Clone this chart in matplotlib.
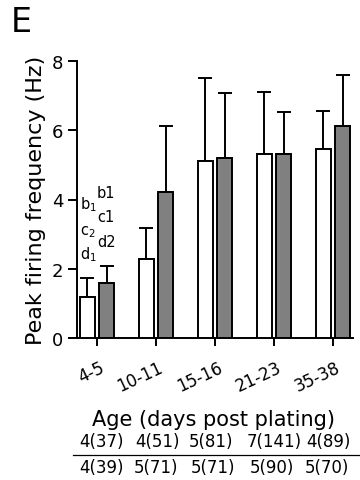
import matplotlib
matplotlib.use("Agg")
import matplotlib.pyplot as plt
import matplotlib.transforms as mtransforms
import numpy as np

plt.rcParams['font.family'] = ['DejaVu Sans']
plt.rcParams['mathtext.fontset'] = 'dejavusans'

ages = ["4-5", "10-11", "15-16", "21-23", "35-38"]
white_mean = [1.18, 2.28, 5.11, 5.30, 5.46]
white_err = [0.56, 0.89, 2.41, 1.80, 1.09]
gray_mean = [1.58, 4.23, 5.20, 5.30, 6.12]
gray_err = [0.51, 1.89, 1.87, 1.22, 1.48]
counts_white = ["4(37)", "4(51)", "5(81)", "7(141)", "4(89)"]
counts_gray = ["4(39)", "5(71)", "5(71)", "5(90)", "5(70)"]
sig_white = [r"b$_\mathregular{1}$", r"c$_\mathregular{2}$", r"d$_\mathregular{1}$"]
sig_gray = ["b1", "c1", "d2"]

W, H = 360, 481
fig = plt.figure(figsize=(W/100, H/100), dpi=100)
ax = fig.add_axes([77/W, 1-339/H, (353-77)/W, (339-62)/H])

x = np.arange(len(ages))
bw = 0.26
off = 0.165
lw = 1.4
ax.bar(x - off, white_mean, bw, color='white', edgecolor='black', linewidth=lw, zorder=3)
ax.bar(x + off, gray_mean, bw, color='#808080', edgecolor='black', linewidth=lw, zorder=3)
ax.errorbar(x - off, white_mean, yerr=[np.zeros(5), white_err], fmt='none', ecolor='black',
            elinewidth=lw, capsize=5, capthick=lw, zorder=2)
ax.errorbar(x + off, gray_mean, yerr=[np.zeros(5), gray_err], fmt='none', ecolor='black',
            elinewidth=lw, capsize=5, capthick=lw, zorder=2)

ax.set_xlim(-0.34, 4.34)
ax.set_ylim(0, 8)
ax.set_yticks([0, 2, 4, 6, 8])
ax.set_xticks(x)
ax.set_xticklabels([])
ax.tick_params(axis='y', labelsize=13, width=lw, length=6.5, direction='out', pad=3.5)
ax.tick_params(axis='x', width=lw, length=6, direction='out')
for s in ['top', 'right']:
    ax.spines[s].set_visible(False)
ax.spines['left'].set_linewidth(lw)
ax.spines['bottom'].set_linewidth(lw)
ax.set_ylabel("Peak firing frequency (Hz)", fontsize=16, labelpad=4)

# rotated category labels (drawn as text so they can sit slightly right of ticks)
lab_tr = ax.get_xaxis_transform() + mtransforms.ScaledTranslation(10/100, -20/100, fig.dpi_scale_trans)
for xi, t in zip(x, ages):
    ax.text(xi, 0, t, rotation=25, ha='right', va='top', fontsize=12,
            transform=lab_tr, clip_on=False)

# significance letters
ys_w = [3.88, 3.1, 2.43]
ys_g = [4.2, 3.5, 2.78]
for t, yy in zip(sig_white, ys_w):
    ax.text(-0.29, yy, t, fontsize=10.5, ha='left', va='center')
for t, yy in zip(sig_gray, ys_g):
    ax.text(0.0, yy, t, fontsize=10.5, ha='left', va='center')

fig.text(11/W, 1-22/H, "E", fontsize=24, ha='left', va='center')
fig.text(214/W, 1-420/H, "Age (days post plating)", fontsize=15, ha='center', va='center')
row1_px = [101, 157, 211, 274, 328]
row2_px = [101, 156, 213, 272, 327]
for px, t in zip(row1_px, counts_white):
    fig.text(px/W, 1-442/H, t, fontsize=12, ha='center', va='center')
for px, t in zip(row2_px, counts_gray):
    fig.text(px/W, 1-468/H, t, fontsize=12, ha='center', va='center')
fig.add_artist(plt.Line2D([73/W, 359/W], [1-456/H, 1-456/H], color='black', linewidth=0.9))

fig.savefig("out.png", dpi=100)
